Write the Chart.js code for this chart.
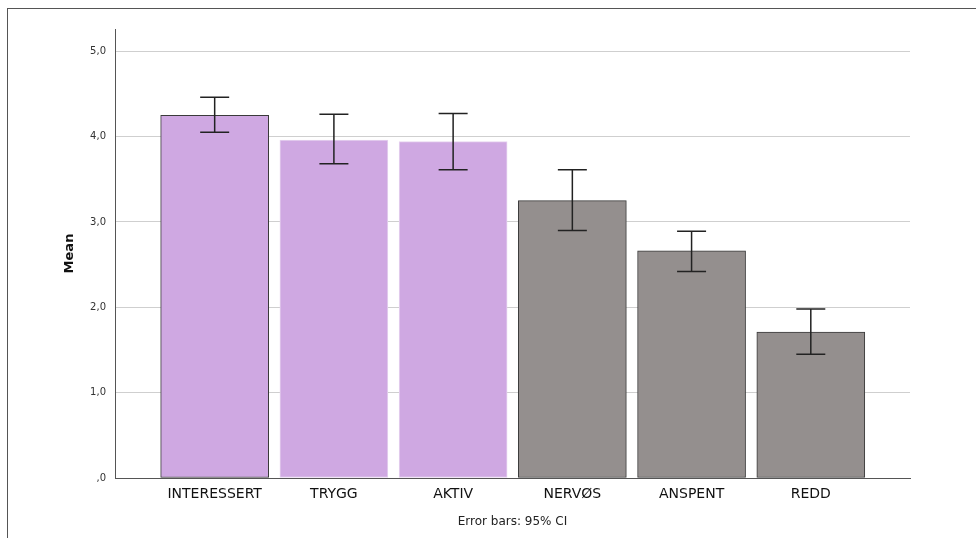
<!DOCTYPE html>
<html>
<head>
<meta charset="utf-8">
<title>Mean with 95% CI</title>
<style>
    body { margin: 0; background: #fff; }
    #wrap { position: relative; width: 976px; height: 538px; }
    #frame {
        position: absolute; left: 7px; top: 8px; right: 0; bottom: 0;
        border-left: 1px solid #555; border-top: 1px solid #555;
        pointer-events: none;
    }
    canvas { position: absolute; left: 0; top: 0; }
</style>
<script src="https://cdn.jsdelivr.net/npm/chart.js"></script>
</head>
<body>
<div id="wrap">
    <canvas id="chart" width="976" height="538"></canvas>
    <div id="frame"></div>
</div>
<script>
    const categories = ["INTERESSERT", "TRYGG", "AKTIV", "NERVØS", "ANSPENT", "REDD"];
    const means   = [4.25, 3.96, 3.94, 3.25, 2.66, 1.71];
    const ciLower = [4.05, 3.68, 3.61, 2.90, 2.42, 1.45];
    const ciUpper = [4.46, 4.26, 4.27, 3.61, 2.89, 1.98];
    const yTicks  = [0, 1, 2, 3, 4, 5];

    const fills   = ["#cfa8e2", "#cfa8e2", "#cfa8e2", "#948f8e", "#948f8e", "#948f8e"];
    const borders = ["#3a3a3a", "#e6d3ef", "#e6d3ef", "#3a3a3a", "#3a3a3a", "#3a3a3a"];

    const FONT = "'DejaVu Sans', sans-serif";

    // draws the CI whiskers on top of the bars
    const errorBars = {
        id: "errorBars",
        afterDatasetsDraw(chart) {
            const meta = chart.getDatasetMeta(0);
            const y = chart.scales.y;
            const c = chart.ctx;
            c.save();
            c.strokeStyle = "#222";
            c.lineWidth = 1.5;
            meta.data.forEach((bar, i) => {
                const top = y.getPixelForValue(ciUpper[i]);
                const bot = y.getPixelForValue(ciLower[i]);
                const half = 14.5;
                c.beginPath();
                c.moveTo(bar.x, top); c.lineTo(bar.x, bot);
                c.moveTo(bar.x - half, top); c.lineTo(bar.x + half, top);
                c.moveTo(bar.x - half, bot); c.lineTo(bar.x + half, bot);
                c.stroke();
            });
            c.restore();
        }
    };

    new Chart(document.getElementById("chart"), {
        type: "bar",
        data: {
            datasets: [{
                data: categories.map((c, i) => ({ x: i, y: means[i] })),
                backgroundColor: fills,
                borderColor: borders,
                borderWidth: 1,
                borderSkipped: false,
                barThickness: 108
            }]
        },
        options: {
            responsive: false,
            animation: false,
            layout: { padding: { left: 62, right: 66, top: 29, bottom: 0 } },
            plugins: { legend: { display: false }, tooltip: { enabled: false } },
            scales: {
                x: {
                    type: "linear",
                    offset: false,
                    min: -0.836,
                    max: 5.832,
                    grid: { display: false, drawTicks: false },
                    border: { display: true, color: "#555", width: 1 },
                    ticks: {
                        stepSize: 1,
                        includeBounds: false,
                        autoSkip: false,
                        maxRotation: 0,
                        padding: 8,
                        color: "#111",
                        font: { family: FONT, size: 14 },
                        callback: v => categories[v] ?? ""
                    },
                    title: {
                        display: true,
                        text: "Error bars: 95% CI",
                        color: "#222",
                        font: { family: FONT, size: 12 },
                        padding: { top: 0, bottom: 9 }
                    },
                    afterFit: s => { s.height = 60; }
                },
                y: {
                    min: 0,
                    max: 5.26,
                    grid: { color: "#cfcfcf", lineWidth: 1, drawTicks: false },
                    border: { display: true, color: "#555", width: 1 },
                    afterBuildTicks: s => { s.ticks = yTicks.map(v => ({ value: v })); },
                    ticks: {
                        padding: 9,
                        color: "#333",
                        font: { family: FONT, size: 10 },
                        callback: v => v === 0 ? ",0" : v.toFixed(1).replace(".", ",")
                    },
                    title: {
                        display: true,
                        text: "Mean",
                        color: "#111",
                        font: { family: FONT, size: 13, weight: "bold" },
                        padding: { top: 0, bottom: 0 }
                    },
                    afterFit: s => { s.width = 53; }
                }
            }
        },
        plugins: [errorBars]
    });
</script>
</body>
</html>
